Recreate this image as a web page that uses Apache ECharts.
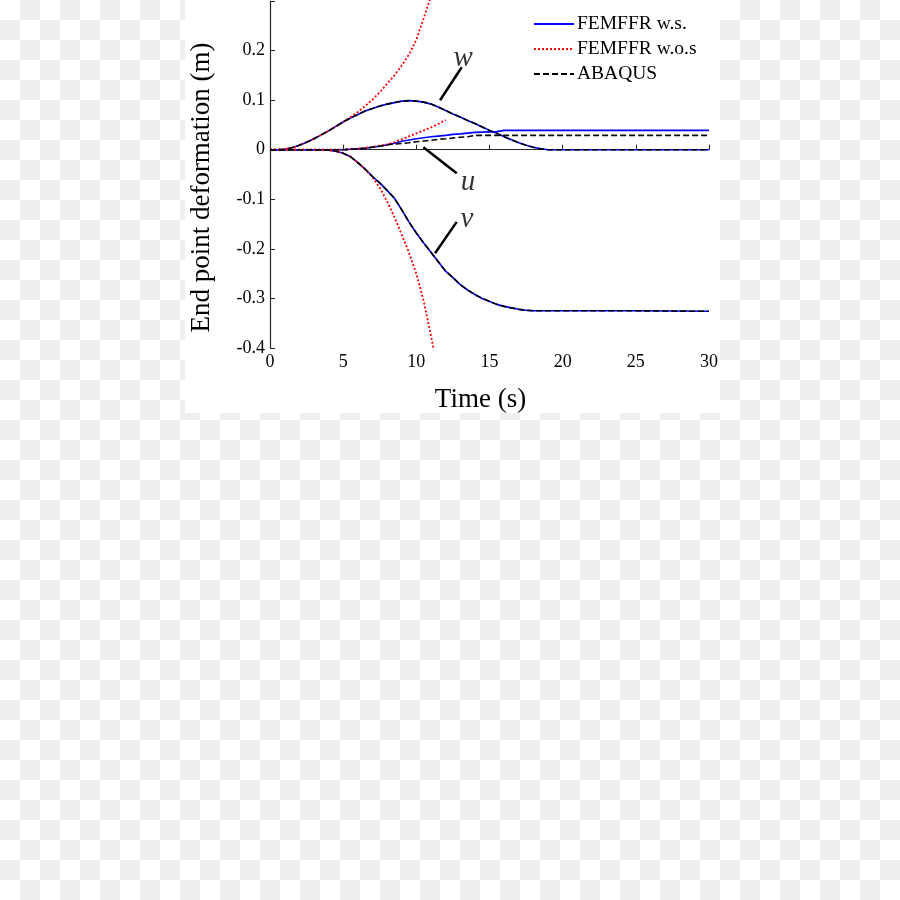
<!DOCTYPE html>
<html>
<head>
<meta charset="utf-8">
<script src="https://cdn.jsdelivr.net/npm/echarts@6/dist/echarts.min.js"></script>
<style>
  html, body { margin: 0; padding: 0; width: 900px; height: 900px; overflow: hidden; }
  body { background: repeating-conic-gradient(#eeeeee 0 25%, #ffffff 0 50%) 0 0 / 40px 40px; }
  #chart { position: absolute; left: 185px; top: 0px; width: 535px; height: 413px; background: #ffffff; }
</style>
</head>
<body>
<div id="chart"></div>
<script>
// ---- time bases (s) ----
const tMain = [0,0.5,1,1.5,2,2.5,3,3.5,4,4.5,5,5.5,6,6.5,7,7.5,8,8.5,9,9.5,10,10.5,11,11.5,12,12.5,13,13.5,14,14.5,15,15.5,16,16.5,17,17.5,18,18.5,19,19.5,20,25,30];
const tRed = [0,0.5,1,1.5,2,2.5,3,3.5,4,4.5,5,5.5,6,6.5,7,7.5,8,8.5,9,9.5,10,10.5,11,11.5,12];

// ---- FEMFFR w.s. (m) ----
const wWS = [0,0,0.001,0.004,0.009,0.015,0.022,0.030,0.038,0.047,0.056,0.064,0.071,0.078,0.083,0.088,0.092,0.095,0.098,0.099,0.098,0.096,0.092,0.086,0.079,0.072,0.066,0.059,0.053,0.046,0.039,0.033,0.026,0.020,0.014,0.009,0.005,0.002,0,0,0,0,0];
const vWS = [0,0,0,0,0,0,0,0,-0.001,-0.003,-0.007,-0.014,-0.026,-0.039,-0.054,-0.067,-0.082,-0.098,-0.121,-0.146,-0.168,-0.188,-0.207,-0.226,-0.245,-0.258,-0.272,-0.283,-0.292,-0.300,-0.306,-0.312,-0.316,-0.319,-0.322,-0.324,-0.325,-0.325,-0.325,-0.325,-0.325,-0.325,-0.326];
const uWS = [0,0,0,0,0,0,0,0,0,0,0,0.001,0.002,0.003,0.005,0.007,0.010,0.013,0.017,0.0195,0.022,0.024,0.026,0.0275,0.029,0.031,0.032,0.0335,0.035,0.0355,0.036,0.0365,0.039,0.039,0.039,0.039,0.039,0.039,0.039,0.039,0.039,0.039,0.039];

// ---- FEMFFR w.o.s (m) ----
const wWOS = [0,0,0.001,0.004,0.009,0.015,0.022,0.030,0.038,0.047,0.056,0.066,0.076,0.088,0.101,0.116,0.133,0.150,0.170,0.192,0.222,0.265,0.310];
const vWOS = [0,0,0,0,0,0,0,0,-0.001,-0.003,-0.007,-0.014,-0.026,-0.040,-0.055,-0.077,-0.104,-0.136,-0.171,-0.208,-0.250,-0.305,-0.375,-0.450];
const uWOS = [0,0,0,0,0,0,0,0,0,0,0,0.001,0.002,0.004,0.006,0.008,0.011,0.015,0.021,0.027,0.033,0.039,0.045,0.052,0.060];

// ---- ABAQUS (m) ----
const wAB = [0,0,0.001,0.004,0.009,0.015,0.022,0.030,0.038,0.047,0.056,0.064,0.071,0.078,0.083,0.088,0.092,0.095,0.098,0.099,0.098,0.096,0.092,0.086,0.079,0.072,0.066,0.059,0.053,0.046,0.039,0.033,0.026,0.020,0.014,0.009,0.005,0.002,0,0,0,0,0];
const vAB = [0,0,0,0,0,0,0,0,-0.001,-0.003,-0.007,-0.014,-0.026,-0.039,-0.054,-0.067,-0.082,-0.098,-0.121,-0.146,-0.168,-0.188,-0.207,-0.226,-0.245,-0.258,-0.272,-0.283,-0.292,-0.300,-0.306,-0.312,-0.316,-0.319,-0.322,-0.324,-0.325,-0.325,-0.325,-0.325,-0.325,-0.325,-0.326];
const uAB = [0,0,0,0,0,0,0,0,0,0,0,0.001,0.002,0.003,0.005,0.007,0.010,0.0115,0.0125,0.014,0.016,0.0175,0.019,0.021,0.022,0.0235,0.025,0.026,0.029,0.029,0.029,0.029,0.029,0.029,0.029,0.029,0.029,0.029,0.029,0.029,0.029,0.029,0.029];

// ---- labels / annotations (data units) ----
const legendNames = ['FEMFFR w.s.', 'FEMFFR w.o.s', 'ABAQUS'];
const xTitle = 'Time (s)';
const yTitle = 'End point deformation (m)';
const curveLetters = [['w', 13.2, 0.184], ['u', 13.53, -0.065], ['v', 13.46, -0.141]];
const leaders = [
  [[11.62, 0.0998], [13.10, 0.1663]],
  [[10.48, 0.005], [12.76, -0.0474]],
  [[11.28, -0.209], [12.76, -0.1456]]
];

const FONT = "'Liberation Serif', 'Times New Roman', serif";
const zip = (t, v) => v.map((y, i) => [t[i], y]);

function lineSeries(name, data, color, type, width) {
  return {
    name: name, type: 'line', data: data, showSymbol: false, symbol: 'none',
    clip: true, silent: true,
    lineStyle: { color: color, type: type, width: width },
    itemStyle: { color: color }
  };
}

const blue = '#0000ff', red = '#ff0000', black = '#000000';
const series = [
  lineSeries(legendNames[0], zip(tMain, wWS), blue, 'solid', 1.6),
  lineSeries(legendNames[0], zip(tMain, uWS), blue, 'solid', 1.6),
  lineSeries(legendNames[0], zip(tMain, vWS), blue, 'solid', 1.6),
  lineSeries(legendNames[1], zip(tRed, wWOS), red, [2, 2], 1.8),
  lineSeries(legendNames[1], zip(tRed, uWOS), red, [2, 2], 1.8),
  lineSeries(legendNames[1], zip(tRed, vWOS), red, [2, 2], 1.8),
  lineSeries(legendNames[2], zip(tMain, wAB), black, [6, 3], 1.6),
  lineSeries(legendNames[2], zip(tMain, uAB), black, [6, 3], 1.6),
  lineSeries(legendNames[2], zip(tMain, vAB), black, [6, 3], 1.6),
  {
    type: 'scatter', silent: true, symbolSize: 0,
    data: curveLetters.map(d => ({ value: [d[1], d[2]], name: d[0] })),
    label: {
      show: true, position: 'inside', formatter: p => p.name,
      fontFamily: FONT, fontStyle: 'italic', fontSize: 29, color: '#000'
    },
    markLine: {
      silent: true, symbol: ['none', 'none'], animation: false,
      label: { show: false },
      lineStyle: { color: '#000', type: 'solid', width: 2.5 },
      data: leaders.map(l => [{ coord: l[0] }, { coord: l[1] }])
    }
  }
];

const chart = echarts.init(document.getElementById('chart'), null, { renderer: 'canvas' });
chart.setOption({
  animation: false,
  backgroundColor: '#ffffff',
  grid: { left: 85, right: 11, top: 1, bottom: 65, containLabel: false, outerBoundsMode: 'none' },
  legend: {
    data: legendNames, orient: 'vertical', left: 348, top: 14, padding: 0,
    itemWidth: 40, itemHeight: 14, itemGap: 5, selectedMode: false,
    itemStyle: { color: 'rgba(0,0,0,0)', borderColor: 'rgba(0,0,0,0)', borderWidth: 0 },
    textStyle: { fontFamily: FONT, fontSize: 19.5, color: '#000', padding: [0, 0, 0, -2] }
  },
  xAxis: {
    type: 'value', min: 0, max: 30, interval: 5,
    name: xTitle, nameLocation: 'middle', nameGap: 38,
    nameTextStyle: { fontFamily: FONT, fontSize: 27, color: '#000', padding: [0, 18, 0, 0] },
    axisLine: { lineStyle: { color: '#262626', width: 1.2 } },
    axisTick: { show: true, inside: true, length: 5, lineStyle: { color: '#262626' } },
    axisLabel: { fontFamily: FONT, fontSize: 18, color: '#000', margin: 5 },
    splitLine: { show: false }
  },
  yAxis: {
    type: 'value', min: -0.4, max: 0.3, interval: 0.1,
    name: yTitle, nameLocation: 'middle', nameGap: 55,
    nameTextStyle: { fontFamily: FONT, fontSize: 27, color: '#000', padding: [0, 26, 0, 0] },
    axisLine: { show: true, lineStyle: { color: '#262626', width: 1.2 } },
    axisTick: { show: true, inside: true, length: 5, lineStyle: { color: '#262626' } },
    axisLabel: {
      fontFamily: FONT, fontSize: 18, color: '#000', margin: 5,
      formatter: v => (Math.abs(v - 0.3) < 1e-9 ? '' : String(Math.round(v * 10) / 10))
    },
    splitLine: { show: false }
  },
  series: series
});
</script>
</body>
</html>
